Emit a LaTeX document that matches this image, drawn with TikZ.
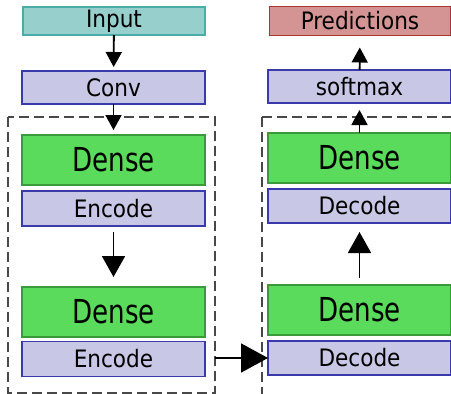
\documentclass[tikz,border=0pt]{standalone}
\usepackage{fontspec}
\setmainfont{DejaVu Sans Condensed}
\newfontfamily\densefont[FakeStretch=0.88]{DejaVu Sans Condensed}
\usetikzlibrary{arrows.meta}
\definecolor{tealfill}{HTML}{96CFCC}
\definecolor{tealline}{HTML}{4AADA8}
\definecolor{redfill}{HTML}{D49494}
\definecolor{redline}{HTML}{A83434}
\definecolor{lavfill}{HTML}{C8C8E6}
\definecolor{lavline}{HTML}{3A3AAA}
\definecolor{grnfill}{HTML}{5BDB5B}
\definecolor{grnline}{HTML}{3A9A3A}
\definecolor{dashgray}{HTML}{484848}
\tikzset{
  box/.style={draw, line width=1.6pt, inner sep=0pt, outer sep=0pt, font=\fontsize{24}{24}\selectfont},
  inbox/.style={box, fill=tealfill, draw=tealline},
  predbox/.style={box, fill=redfill, draw=redline},
  lavbox/.style={box, fill=lavfill, draw=lavline},
  densebox/.style={box, fill=grnfill, draw=grnline, font=\densefont\fontsize{33}{33}\selectfont},
  group/.style={draw=dashgray, line width=2.8pt, dash pattern=on 10pt off 5pt},
  arr/.style={line width=1.8pt, -{Triangle[length=15pt,width=16pt]}},
  bigarr/.style={line width=1.8pt, -{Triangle[length=21pt,width=23pt]}},
  hugearr/.style={line width=1.8pt, -{Triangle[length=27pt,width=29pt]}},
}
\begin{document}
\begin{tikzpicture}[x=1pt, y=-1pt]
\useasboundingbox (0,0) rectangle (451,394);
% dashed groups
\draw[group] (8,117) rectangle (215,393);
\draw[group] (262,117) -- (455,117);
\draw[group] (262,117) -- (262,400);
% left column
\node[inbox, minimum width=182pt, minimum height=28pt] (input) at (114,21) {Input};
\node[lavbox, minimum width=183pt, minimum height=33pt] (conv) at (113.5,87.5) {Conv};
\node[densebox, minimum width=183pt, minimum height=50pt] (dl1) at (113.5,160) {Dense};
\node[lavbox, minimum width=183pt, minimum height=35pt] (enc1) at (113.5,208.5) {Encode};
\node[densebox, minimum width=183pt, minimum height=50pt] (dl2) at (113.5,312) {Dense};
\node[lavbox, minimum width=183pt, minimum height=35pt] (enc2) at (113.5,359) {Encode};
% right column
\node[predbox, minimum width=181pt, minimum height=29pt] (pred) at (360,21) {Predictions};
\node[lavbox, minimum width=183pt, minimum height=33pt] (soft) at (359.5,86.5) {softmax};
\node[densebox, minimum width=183pt, minimum height=50pt] (dr1) at (359.5,158) {Dense};
\node[lavbox, minimum width=183pt, minimum height=34pt] (dec1) at (359.5,206) {Decode};
\node[densebox, minimum width=183pt, minimum height=50pt] (dr2) at (359.5,310) {Dense};
\node[lavbox, minimum width=183pt, minimum height=34pt] (dec2) at (359.5,358) {Decode};
% arrows
\draw[arr, shorten >=4pt] (input) -- (conv);
\draw[arr, shorten >=5pt] (conv) -- (dl1);
\draw[bigarr, shorten <=6pt, shorten >=10pt] (enc1) -- (dl2);
\draw[hugearr, shorten <=10pt] (enc2.east |- dec2.west) -- (dec2.west);
\draw[bigarr, shorten <=7pt, shorten >=9pt] (dr2) -- (dec1);
\draw[arr, shorten >=7pt] (dr1) -- (soft);
\draw[arr, shorten >=12pt] (soft) -- (pred);
\end{tikzpicture}
\end{document}
